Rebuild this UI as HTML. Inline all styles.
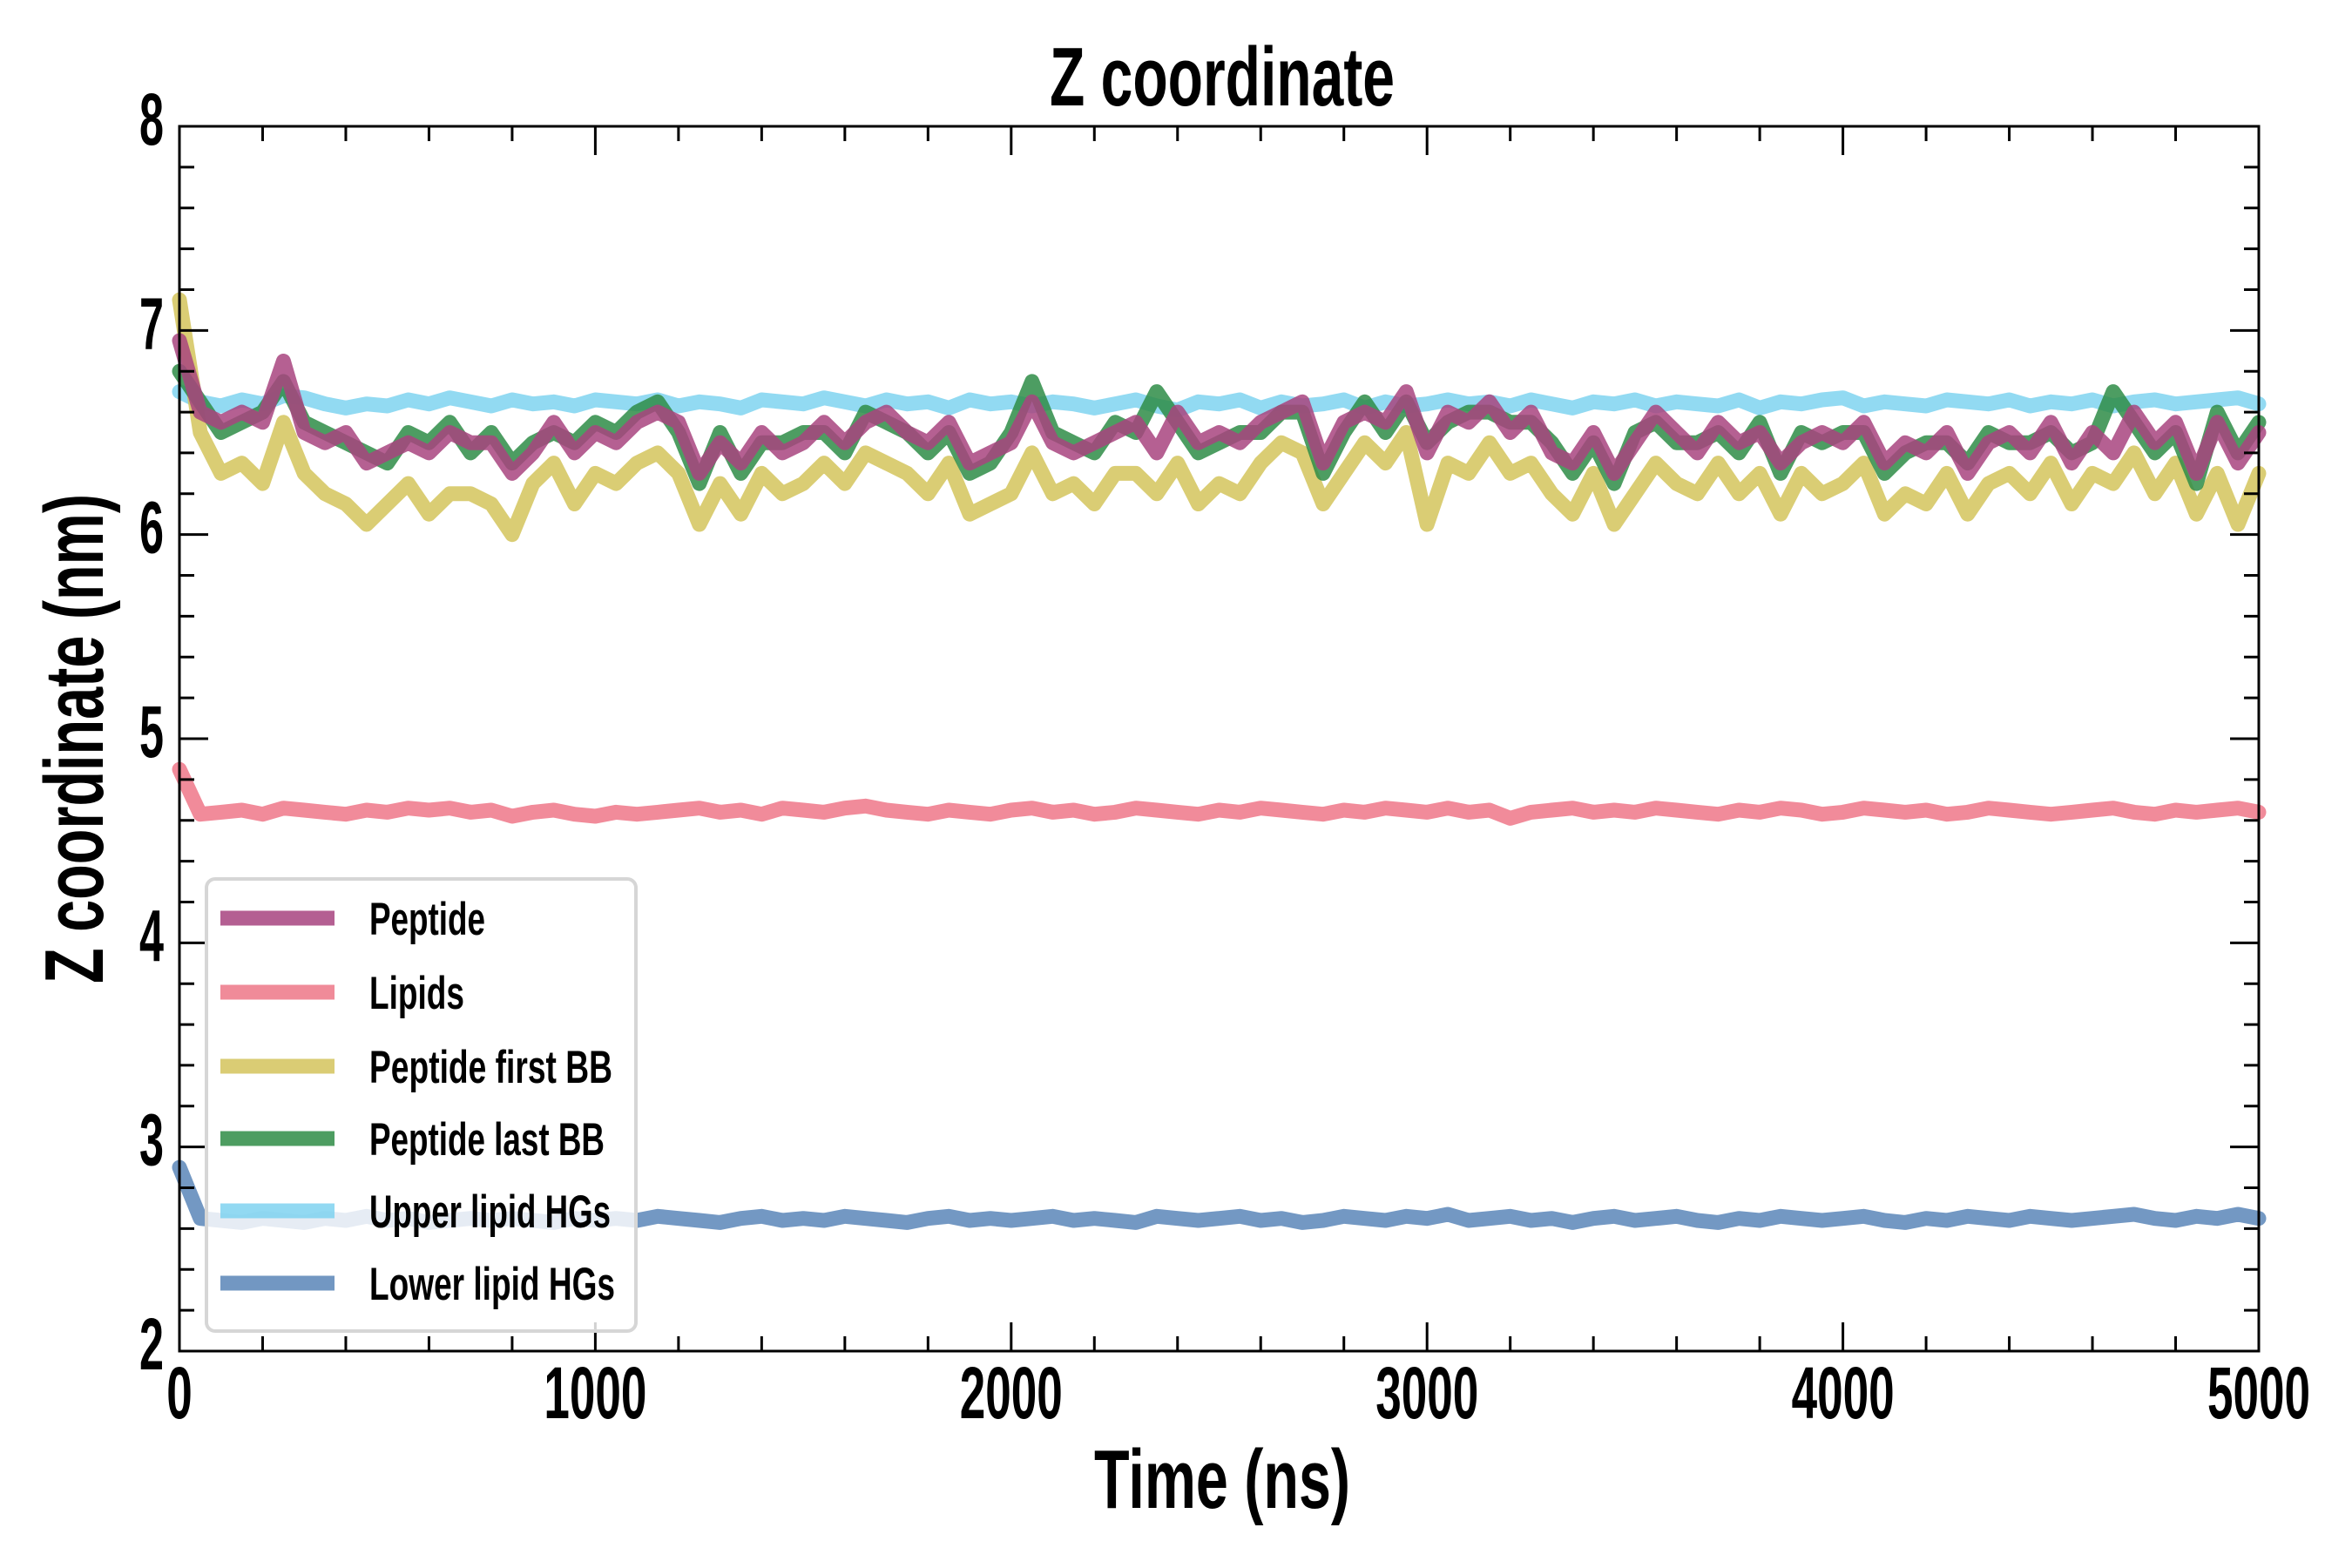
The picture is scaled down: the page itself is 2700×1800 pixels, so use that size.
<!DOCTYPE html>
<html><head><meta charset="utf-8"><style>
html,body{margin:0;padding:0;background:#fff;}
svg{display:block;}
text{font-family:"Liberation Sans Narrow","Liberation Sans",sans-serif;font-weight:bold;fill:#000;}
</style></head><body>
<svg id="chart" width="2700" height="1800" viewBox="0 0 2700 1800" xmlns="http://www.w3.org/2000/svg">
<g id="series"></g>
<g id="axes"></g>
<g id="legend"></g>
</svg>
<script>
const xTicks = [0,1000,2000,3000,4000,5000];
const xTickLabels = ["0","1000","2000","3000","4000","5000"];
const yTicks = [2,3,4,5,6,7,8];
const yTickLabels = ["2","3","4","5","6","7","8"];
const tMax = 5000;
const peptide = [6.95,6.6,6.55,6.6,6.55,6.85,6.5,6.45,6.5,6.35,6.4,6.45,6.4,6.5,6.45,6.45,6.3,6.4,6.55,6.4,6.5,6.45,6.55,6.6,6.55,6.3,6.45,6.35,6.5,6.4,6.45,6.55,6.45,6.55,6.6,6.5,6.45,6.55,6.35,6.4,6.45,6.65,6.45,6.4,6.45,6.5,6.55,6.4,6.6,6.45,6.5,6.45,6.55,6.6,6.65,6.35,6.55,6.6,6.55,6.7,6.4,6.6,6.55,6.65,6.5,6.6,6.4,6.35,6.5,6.3,6.45,6.6,6.5,6.4,6.55,6.45,6.5,6.35,6.45,6.5,6.45,6.55,6.35,6.45,6.4,6.5,6.3,6.45,6.5,6.4,6.55,6.35,6.5,6.4,6.6,6.45,6.55,6.3,6.55,6.35,6.5];
const lastBB = [6.8,6.65,6.5,6.55,6.6,6.75,6.55,6.5,6.45,6.4,6.35,6.5,6.45,6.55,6.4,6.5,6.35,6.45,6.5,6.45,6.55,6.5,6.6,6.65,6.5,6.25,6.5,6.3,6.45,6.45,6.5,6.5,6.4,6.6,6.55,6.5,6.4,6.5,6.3,6.35,6.5,6.75,6.5,6.45,6.4,6.55,6.5,6.7,6.55,6.4,6.45,6.5,6.5,6.6,6.6,6.3,6.5,6.65,6.5,6.65,6.45,6.55,6.6,6.6,6.55,6.55,6.45,6.3,6.45,6.25,6.5,6.55,6.45,6.45,6.5,6.4,6.55,6.3,6.5,6.45,6.5,6.5,6.3,6.4,6.45,6.45,6.35,6.5,6.45,6.45,6.5,6.4,6.45,6.7,6.55,6.4,6.5,6.25,6.6,6.4,6.55];
const firstBB = [7.15,6.5,6.3,6.35,6.25,6.55,6.3,6.2,6.15,6.05,6.15,6.25,6.1,6.2,6.2,6.15,6.0,6.25,6.35,6.15,6.3,6.25,6.35,6.4,6.3,6.05,6.25,6.1,6.3,6.2,6.25,6.35,6.25,6.4,6.35,6.3,6.2,6.35,6.1,6.15,6.2,6.4,6.2,6.25,6.15,6.3,6.3,6.2,6.35,6.15,6.25,6.2,6.35,6.45,6.4,6.15,6.3,6.45,6.35,6.5,6.05,6.35,6.3,6.45,6.3,6.35,6.2,6.1,6.3,6.05,6.2,6.35,6.25,6.2,6.35,6.2,6.3,6.1,6.3,6.2,6.25,6.35,6.1,6.2,6.15,6.3,6.1,6.25,6.3,6.2,6.35,6.15,6.3,6.25,6.4,6.2,6.35,6.1,6.3,6.05,6.3];
const upperHG = [6.7,6.65,6.63,6.66,6.64,6.68,6.67,6.64,6.62,6.64,6.63,6.66,6.64,6.67,6.65,6.63,6.66,6.64,6.65,6.63,6.66,6.65,6.64,6.66,6.63,6.65,6.64,6.62,6.66,6.65,6.64,6.67,6.65,6.63,6.66,6.64,6.65,6.62,6.66,6.64,6.65,6.63,6.65,6.64,6.62,6.64,6.66,6.63,6.61,6.65,6.64,6.66,6.62,6.65,6.63,6.64,6.66,6.62,6.65,6.63,6.64,6.66,6.64,6.65,6.63,6.66,6.64,6.62,6.65,6.64,6.66,6.63,6.65,6.64,6.63,6.66,6.62,6.65,6.64,6.66,6.67,6.63,6.65,6.64,6.63,6.66,6.65,6.64,6.66,6.63,6.65,6.64,6.66,6.63,6.65,6.66,6.64,6.65,6.66,6.67,6.64];
const lipids = [4.85,4.63,4.64,4.65,4.63,4.66,4.65,4.64,4.63,4.65,4.64,4.66,4.65,4.66,4.64,4.65,4.62,4.64,4.65,4.63,4.62,4.64,4.63,4.64,4.65,4.66,4.64,4.65,4.63,4.66,4.65,4.64,4.66,4.67,4.65,4.64,4.63,4.65,4.64,4.63,4.65,4.66,4.64,4.65,4.63,4.64,4.66,4.65,4.64,4.63,4.65,4.64,4.66,4.65,4.64,4.63,4.65,4.64,4.66,4.65,4.64,4.66,4.64,4.65,4.61,4.64,4.65,4.66,4.64,4.65,4.64,4.66,4.65,4.64,4.63,4.65,4.64,4.66,4.65,4.63,4.64,4.66,4.65,4.64,4.65,4.63,4.64,4.66,4.65,4.64,4.63,4.64,4.65,4.66,4.64,4.63,4.65,4.64,4.65,4.66,4.64];
const lowerHG = [2.9,2.65,2.64,2.63,2.65,2.64,2.63,2.65,2.64,2.66,2.64,2.65,2.63,2.64,2.65,2.64,2.65,2.64,2.63,2.65,2.64,2.65,2.64,2.66,2.65,2.64,2.63,2.65,2.66,2.64,2.65,2.64,2.66,2.65,2.64,2.63,2.65,2.66,2.64,2.65,2.64,2.65,2.66,2.64,2.65,2.64,2.63,2.66,2.65,2.64,2.65,2.66,2.64,2.65,2.63,2.64,2.66,2.65,2.64,2.66,2.65,2.67,2.64,2.65,2.66,2.64,2.65,2.63,2.65,2.66,2.64,2.65,2.66,2.64,2.63,2.65,2.64,2.66,2.65,2.64,2.65,2.66,2.64,2.63,2.65,2.64,2.66,2.65,2.64,2.66,2.65,2.64,2.65,2.66,2.67,2.65,2.64,2.66,2.65,2.67,2.65];
const seriesNames = ["Peptide","Lipids","Peptide first BB","Peptide last BB","Upper lipid HGs","Lower lipid HGs"];

const NS = "http://www.w3.org/2000/svg";
const L = 206, R = 2593, T = 145, B = 1551;
const xs = v => L + (v / tMax) * (R - L);
const ys = v => B - (v - 2) / 6 * (B - T);
function mk(tag, attrs, parent) {
  const e = document.createElementNS(NS, tag);
  for (const k in attrs) e.setAttribute(k, attrs[k]);
  parent.appendChild(e);
  return e;
}
const sg = document.getElementById('series');
const ag = document.getElementById('axes');
const lg = document.getElementById('legend');

function drawSeries(vals, color, name) {
  const n = vals.length;
  const pts = vals.map((v, i) => xs(i * tMax / (n - 1)).toFixed(1) + "," + ys(v).toFixed(1)).join(" ");
  const p = mk('polyline', {points: pts, fill: 'none', stroke: color, 'stroke-width': 17, 'stroke-linejoin': 'round', 'stroke-linecap': 'round', opacity: 0.85}, sg);
  
  
}
drawSeries(upperHG, '#7fd3f0', 'upper-lipid-hgs-line');
drawSeries(lipids, '#ee7788', 'lipids-line');
drawSeries(lowerHG, '#5a86b8', 'lower-lipid-hgs-line');
drawSeries(firstBB, '#d4c45c', 'peptide-first-bb-line');
drawSeries(lastBB, '#2e8c46', 'peptide-last-bb-line');
drawSeries(peptide, '#a8447f', 'peptide-line');

const fr = mk('rect', {x: L, y: T, width: R - L, height: B - T, fill: 'none', stroke: '#000', 'stroke-width': 3}, ag);


for (let v = 0; v <= tMax; v += 200) {
  const major = v % 1000 === 0, len = major ? 33 : 17, x = xs(v);
  const t1 = mk('line', {x1: x, x2: x, y1: B, y2: B - len, stroke: '#000', 'stroke-width': 3}, ag);
  
  
  const t2 = mk('line', {x1: x, x2: x, y1: T, y2: T + len, stroke: '#000', 'stroke-width': 3}, ag);
  
  
}
for (let v = 2; v <= 8.001; v += 0.2) {
  const major = Math.abs(v - Math.round(v)) < 1e-6, len = major ? 33 : 17, y = ys(v);
  const t1 = mk('line', {x1: L, x2: L + len, y1: y, y2: y, stroke: '#000', 'stroke-width': 3}, ag);
  
  
  const t2 = mk('line', {x1: R, x2: R - len, y1: y, y2: y, stroke: '#000', 'stroke-width': 3}, ag);
  
  
}
xTicks.forEach((v, i) => {
  const s = xTickLabels[i];
  const t = mk('text', {x: xs(v), y: 1628, 'text-anchor': 'middle', 'font-size': 84, textLength: s.length * 29.5, lengthAdjust: 'spacingAndGlyphs'}, ag);
  t.textContent = s;
  
  
});
yTicks.forEach((v, i) => {
  const s = yTickLabels[i];
  const t = mk('text', {x: 188, y: ys(v) + 21, 'text-anchor': 'end', 'font-size': 84, textLength: 28, lengthAdjust: 'spacingAndGlyphs'}, ag);
  t.textContent = s;
  
  
});
const title = mk('text', {x: 1403, y: 121, 'text-anchor': 'middle', 'font-size': 96, textLength: 396, lengthAdjust: 'spacingAndGlyphs'}, ag);
title.textContent = 'Z coordinate';


const xl = mk('text', {x: 1403, y: 1731, 'text-anchor': 'middle', 'font-size': 96, textLength: 294, lengthAdjust: 'spacingAndGlyphs'}, ag);
xl.textContent = 'Time (ns)';


const yl = mk('text', {x: 0, y: 0, 'text-anchor': 'middle', 'font-size': 96, textLength: 562, lengthAdjust: 'spacingAndGlyphs', transform: 'translate(118,848) rotate(-90)'}, ag);
yl.textContent = 'Z coordinate (nm)';



const lb = mk('rect', {x: 237, y: 1009, width: 493, height: 519, rx: 10, fill: '#fff', 'fill-opacity': 0.82, stroke: '#d6d6d6', 'stroke-width': 4}, lg);


const legColors = ['#a8447f', '#ee7788', '#d4c45c', '#2e8c46', '#7fd3f0', '#5a86b8'];
const legWidths = [133, 109, 279, 270, 277, 282];
const rowY = [1054, 1139, 1224, 1307, 1390, 1473];
seriesNames.forEach((nm, i) => {
  const ln = mk('line', {x1: 253, x2: 384, y1: rowY[i], y2: rowY[i], stroke: legColors[i], 'stroke-width': 17, opacity: 0.85}, lg);
  
  
  const tx = mk('text', {x: 424, y: rowY[i] + 19, 'font-size': 53, textLength: legWidths[i], lengthAdjust: 'spacingAndGlyphs'}, lg);
  tx.textContent = nm;
  
  
});
</script>
</body></html>
